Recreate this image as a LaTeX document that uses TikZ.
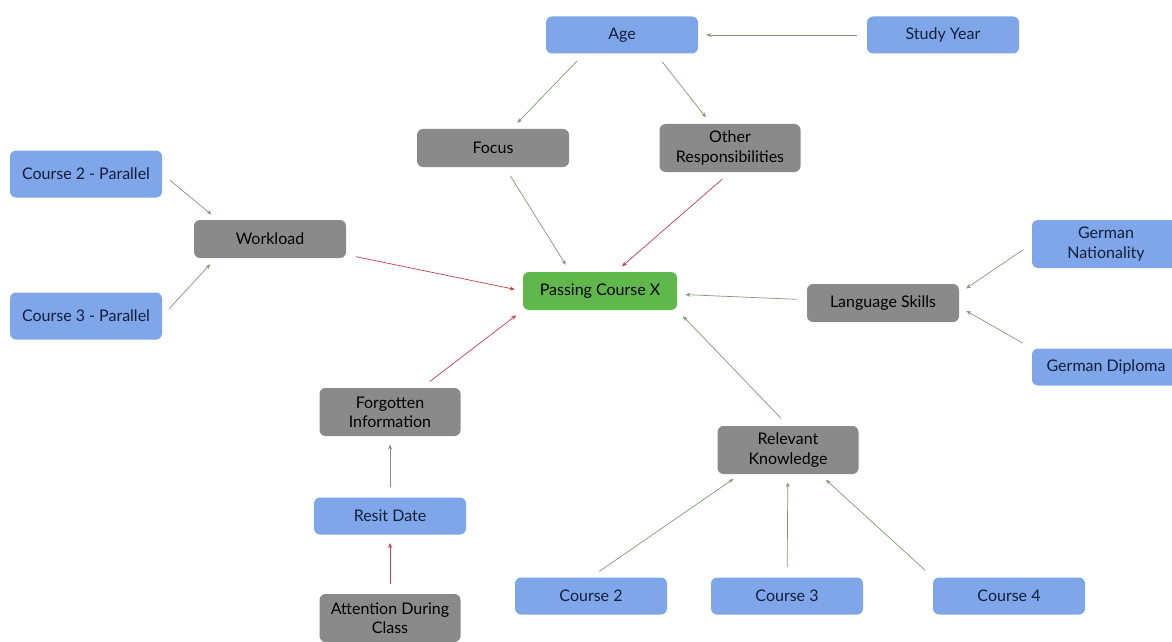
\documentclass[tikz,border=0pt]{standalone}
\usepackage{fontspec}
\setmainfont{Lato}
\usepackage{tikz}
\usetikzlibrary{arrows.meta,positioning,calc}
\definecolor{boxBlue}{RGB}{126,166,232}
\definecolor{boxGrey}{RGB}{138,138,138}
\definecolor{boxGreen}{RGB}{96,184,76}
\definecolor{txtBlue}{RGB}{20,30,60}
\definecolor{posLine}{RGB}{130,150,120}
\definecolor{negLine}{RGB}{196,60,80}

\begin{document}
\begin{tikzpicture}[x=0.5pt, y=-0.5pt,
    every node/.style={font=\fontsize{8}{9.6}\selectfont, align=center, rounded corners=3pt, inner sep=2pt},
    blueBox/.style={fill=boxBlue, text=txtBlue, minimum width=76pt, minimum height=18.5pt},
    greyBox/.style={fill=boxGrey, text=black, minimum width=76pt, minimum height=19pt},
    twoLine/.style={minimum width=70.5pt, minimum height=24pt},
    goalBox/.style={fill=boxGreen, text=black, minimum width=77pt, minimum height=19pt},
    posArrow/.style={draw=posLine, line width=0.35pt, -{Stealth[length=2.5pt,width=2pt]}, shorten <=5pt, shorten >=4pt},
    negArrow/.style={posArrow, draw=negLine}]
    \useasboundingbox (0,0) rectangle (1172,642);
    % nodes
    \node[blueBox] (age) at (622,35) {Age};
    \node[blueBox] (year) at (943,35) {Study Year};
    \node[greyBox] (focus) at (493,148) {Focus};
    \node[greyBox, twoLine] (other) at (730,148) {Other\\Responsibilities};
    \node[blueBox, minimum height=23.5pt] (par2) at (86,174) {Course 2 - Parallel};
    \node[blueBox, minimum height=23.5pt] (par3) at (86,316) {Course 3 - Parallel};
    \node[greyBox] (work) at (270,239) {Workload};
    \node[goalBox] (pass) at (600,291) {Passing Course X};
    \node[greyBox] (lang) at (883,303) {Language Skills};
    \node[blueBox, twoLine, minimum width=74pt] (nat) at (1106,244) {German\\Nationality};
    \node[blueBox, minimum width=74pt] (dipl) at (1106,367) {German Diploma};
    \node[greyBox, twoLine] (forgot) at (390,412) {Forgotten\\Information};
    \node[greyBox, twoLine] (know) at (788,450) {Relevant\\Knowledge};
    \node[blueBox] (resit) at (390,516) {Resit Date};
    \node[greyBox, twoLine] (attn) at (390,618) {Attention During\\Class};
    \node[blueBox] (c2) at (591,596) {Course 2};
    \node[blueBox] (c3) at (787,596) {Course 3};
    \node[blueBox] (c4) at (1009,596) {Course 4};
    % anchor points off the box centres
    \coordinate (ageL) at ($(age.south)+(-19pt,0)$);
    \coordinate (ageR) at ($(age.south)+(17pt,0)$);
    \coordinate (workT) at ($(work.north west)+(12pt,0)$);
    \coordinate (workB) at ($(work.south west)+(11pt,0)$);
    \coordinate (passTL) at ($(pass.north)+(-15pt,0)$);
    \coordinate (passTR) at ($(pass.north)+(8pt,0)$);
    \coordinate (langT) at ($(lang.east)+(0,5pt)$);
    \coordinate (langB) at ($(lang.east)+(0,-2pt)$);
    \coordinate (knowL) at ($(know.south)+(-24pt,0)$);
    \coordinate (knowR) at ($(know.south)+(16pt,0)$);
    % connectors
    \draw[posArrow] (year) -- (age);
    \draw[posArrow] (ageL) -- (focus);
    \draw[posArrow] (ageR) -- (other);
    \draw[posArrow] (focus) -- (passTL);
    \draw[negArrow] (other.south) -- (passTR);
    \draw[posArrow] (par2.east) -- (workT);
    \draw[posArrow] (par3.east) -- (workB);
    \draw[negArrow] (work) -- (pass.west);
    \draw[negArrow] (forgot) -- (pass.south west);
    \draw[posArrow] (lang) -- (pass);
    \draw[posArrow] (nat.west) -- (langT);
    \draw[posArrow] (dipl.north west) -- (langB);
    \draw[posArrow] (know.north) -- (pass.south east);
    \draw[posArrow] (resit) -- (forgot);
    \draw[negArrow] (attn) -- (resit);
    \draw[posArrow] (c2.north) -- (knowL);
    \draw[posArrow] (c3) -- (know);
    \draw[posArrow] (c4.north west) -- (knowR);
\end{tikzpicture}
\end{document}
